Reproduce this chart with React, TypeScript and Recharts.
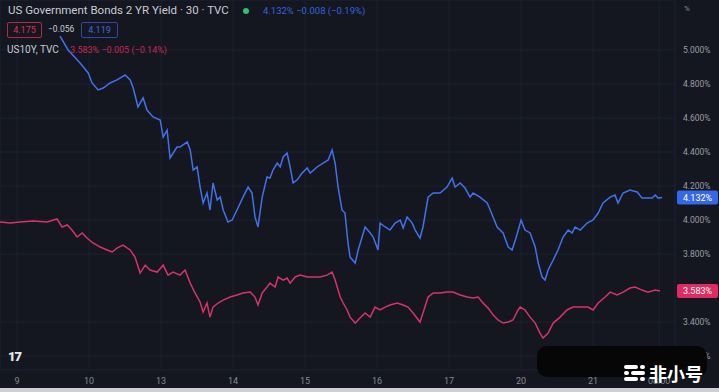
import React from 'react';
import { LineChart, Line, XAxis, YAxis, CartesianGrid, ReferenceLine } from 'recharts';

// x unit: hours of session time, 24 per trading day (day "9" = 0)
const dayTicks = [0, 24, 48, 72, 96, 120, 144, 168, 192, 214];
const dayLabels = ['9', '10', '13', '14', '15', '16', '17', '20', '21', '08:00'];
const yieldTicks = [3.2, 3.4, 3.8, 4.0, 4.2, 4.4, 4.6, 4.8, 5.0];

const us02yTime = [
  14.3, 17, 21, 23.7, 25, 27, 28.7, 31, 33.3, 36, 37.7, 38.7, 40.3, 42, 43.3, 45.3, 47.7, 48.7, 50, 51,
  53.3, 54.3, 56.7, 57.7, 58.7, 60, 61, 62, 63.3, 64.3, 65.3, 66.7, 67.7, 68.7, 70.3, 71.7, 73.3, 75.3, 77, 78.3,
  79.3, 80.3, 81.7, 83.3, 84.3, 85.3, 86.7, 87.7, 88.7, 90, 91, 92, 93.3, 95, 96.7, 97.7, 100, 102, 103.7, 105,
  106, 107, 108.3, 109.3, 110.3, 111, 112.7, 113.7, 116, 117.7, 118.7, 120.3, 121, 122.7, 124.3, 126, 127.7, 128.7, 130, 131.7,
  132.7, 134.3, 135.3, 137, 138.7, 141, 143.3, 145, 146, 147.7, 149.3, 151, 152, 154.3, 156.7, 157.7, 160, 162, 163.7, 165,
  166.3, 168, 169.3, 171, 172.7, 173.7, 175, 176, 177, 178.7, 180.3, 182, 183.7, 185, 186, 187.7, 190, 192, 193.7, 195.3,
  197.7, 199.3, 200.3, 202, 204.3, 206.7, 208.3, 210, 211.7, 212.7, 213.7, 215,
];
const us02yValue = [
  5.082, 5.0, 4.924, 4.865, 4.806, 4.765, 4.776, 4.806, 4.824, 4.853, 4.824, 4.776, 4.665, 4.718, 4.647, 4.606, 4.588, 4.488, 4.529, 4.365,
  4.429, 4.429, 4.459, 4.412, 4.294, 4.312, 4.194, 4.1, 4.159, 4.059, 4.218, 4.118, 4.135, 4.059, 3.988, 4.0, 4.059, 4.135, 4.194, 4.159,
  4.018, 3.959, 4.135, 4.253, 4.247, 4.294, 4.335, 4.312, 4.371, 4.394, 4.312, 4.218, 4.235, 4.276, 4.306, 4.276, 4.312, 4.335, 4.353, 4.412,
  4.335, 4.194, 4.059, 4.041, 3.865, 3.782, 3.747, 3.824, 3.959, 3.924, 3.9, 3.824, 3.982, 3.959, 3.941, 3.982, 4.0, 3.953, 4.018, 3.982,
  3.941, 3.894, 3.959, 4.135, 4.159, 4.159, 4.194, 4.247, 4.194, 4.218, 4.188, 4.135, 4.159, 4.135, 4.1, 4.059, 3.959, 3.924, 3.841, 3.824,
  3.894, 4.0, 3.941, 3.924, 3.841, 3.747, 3.665, 3.647, 3.706, 3.765, 3.824, 3.9, 3.941, 3.924, 3.959, 3.941, 3.982, 4.0, 4.041, 4.1,
  4.135, 4.147, 4.1, 4.159, 4.176, 4.165, 4.129, 4.129, 4.129, 4.147, 4.129, 4.132,
];

const us10yTime = [
  -5.7, -2.3, 1, 5.3, 10, 13.3, 15, 16.7, 18.3, 20, 21.7, 23.3, 25.3, 27.7, 30, 31.7, 33.3, 35.3, 37.7, 39.3,
  41, 42.7, 44.3, 46.7, 48.7, 50.3, 52, 54.3, 56, 57.7, 59.3, 61, 62, 63.3, 64.3, 65.3, 67, 68.7, 71, 73.3,
  75.3, 77.7, 79.3, 80.3, 81.7, 83.3, 84.3, 86, 87, 88.7, 90, 91, 92.7, 94.3, 96.7, 98.7, 101, 103.3, 105, 106,
  107.7, 108.7, 110, 111, 112.7, 114.3, 116, 117.7, 119.3, 121, 122.7, 124.3, 126.7, 128.7, 130.3, 132, 134.3, 135.3, 137, 138.7,
  141, 143.3, 145.3, 147.7, 150, 152, 153.7, 155.3, 157, 158.7, 160.3, 162, 163.7, 165.3, 167, 167.7, 169.3, 171, 172.7, 174.3,
  175.3, 177, 178.7, 181, 183.3, 185.3, 187.7, 190.3, 192, 193.7, 196, 197.7, 200, 202, 204.3, 206, 208.3, 210.3, 212.7, 214.3,
];
const us10yValue = [
  3.988, 3.982, 3.988, 3.994, 3.988, 4.006, 3.959, 3.971, 3.941, 3.9, 3.924, 3.894, 3.865, 3.841, 3.824, 3.812, 3.835, 3.853, 3.824, 3.782,
  3.688, 3.735, 3.706, 3.694, 3.735, 3.676, 3.694, 3.676, 3.706, 3.629, 3.571, 3.518, 3.459, 3.512, 3.429, 3.488, 3.512, 3.529, 3.547, 3.559,
  3.571, 3.576, 3.547, 3.5, 3.571, 3.606, 3.629, 3.606, 3.665, 3.647, 3.659, 3.629, 3.665, 3.676, 3.665, 3.665, 3.665, 3.676, 3.694, 3.647,
  3.547, 3.512, 3.471, 3.429, 3.394, 3.424, 3.453, 3.429, 3.488, 3.471, 3.488, 3.5, 3.512, 3.5, 3.488, 3.453, 3.4, 3.453, 3.547, 3.571,
  3.571, 3.576, 3.576, 3.559, 3.547, 3.541, 3.547, 3.512, 3.482, 3.441, 3.412, 3.394, 3.4, 3.412, 3.471, 3.488, 3.471, 3.429, 3.394, 3.335,
  3.306, 3.335, 3.394, 3.429, 3.471, 3.488, 3.488, 3.488, 3.471, 3.512, 3.547, 3.576, 3.559, 3.576, 3.6, 3.606, 3.588, 3.576, 3.588, 3.583,
];

const us02y = us02yTime.map((t, i) => ({ t, v: us02yValue[i] }));
const us10y = us10yTime.map((t, i) => ({ t, v: us10yValue[i] }));

const BG = '#141720';
const BLUE = '#4271ea';
const RED = '#d6336a';
const FONT = "Roboto, 'Noto Sans', sans-serif";

function PriceTag({ viewBox, value, color }: any) {
  if (!viewBox) return null;
  const x = viewBox.x + viewBox.width + 2;
  const y = viewBox.y;
  return (
    <g>
      <rect x={x} y={y - 7} width={41} height={14} rx={2} fill={color} />
      <text x={x + 20.5} y={y + 3.5} textAnchor="middle" fill="#ffffff" fontSize={9} fontFamily={FONT}>
        {value.toFixed(3)}%
      </text>
    </g>
  );
}

export default function App() {
  const last2 = us02yValue[us02yValue.length - 1];
  const last10 = us10yValue[us10yValue.length - 1];
  return (
    <div
      style={{
        position: 'fixed',
        left: 0,
        top: 0,
        width: 719,
        height: 392,
        background: BG,
        overflow: 'hidden',
        fontFamily: FONT,
      }}
    >
      <LineChart width={719} height={388} margin={{ top: 0, right: 0, bottom: 0, left: 0 }}>
        <CartesianGrid stroke="#1d2130" strokeWidth={1} />
        <XAxis
          dataKey="t"
          type="number"
          domain={[-5.7, 219.3]}
          ticks={dayTicks}
          allowDataOverflow
          tickFormatter={(t: number) => dayLabels[dayTicks.indexOf(t)] ?? ''}
          axisLine={false}
          tickLine={false}
          height={18}
          tick={{ fill: '#868993', fontSize: 9, fontFamily: FONT }}
        />
        <YAxis
          orientation="right"
          type="number"
          width={44}
          domain={[3.118, 5.294]}
          ticks={yieldTicks}
          allowDataOverflow
          tickFormatter={(v: number) => `${v.toFixed(3)}%`}
          axisLine={false}
          tickLine={false}
          tick={{ fill: '#9a9da6', fontSize: 8.5, fontFamily: FONT }}
        />
        <Line
          data={us10y}
          dataKey="v"
          type="linear"
          stroke={RED}
          strokeWidth={1.5}
          dot={false}
          activeDot={false}
          isAnimationActive={false}
        />
        <Line
          data={us02y}
          dataKey="v"
          type="linear"
          stroke={BLUE}
          strokeWidth={1.5}
          dot={false}
          activeDot={false}
          isAnimationActive={false}
        />
        <ReferenceLine
          y={last2}
          stroke="none"
          label={(p: any) => <PriceTag {...p} value={last2} color="#3568e6" />}
        />
        <ReferenceLine
          y={last10}
          stroke="none"
          label={(p: any) => <PriceTag {...p} value={last10} color="#e02a62" />}
        />
      </LineChart>

      {/* legend header */}
      <div style={{ position: 'absolute', left: 8, top: 3, fontSize: 11.5, color: '#c9cbd1', whiteSpace: 'nowrap' }}>
        US Government Bonds 2 YR Yield · 30 · TVC
      </div>
      <div
        style={{ position: 'absolute', left: 243, top: 8, width: 6, height: 6, borderRadius: 3, background: '#2fbf71' }}
      />
      <div style={{ position: 'absolute', left: 263, top: 5, fontSize: 9.5, color: '#3563d8', whiteSpace: 'nowrap' }}>
        4.132% −0.008 (−0.19%)
      </div>
      <div
        style={{
          position: 'absolute',
          left: 7,
          top: 22,
          width: 33,
          height: 14,
          border: '1px solid #b02a45',
          borderRadius: 2,
          color: '#d8344f',
          fontSize: 9,
          lineHeight: '14px',
          textAlign: 'center',
        }}
      >
        4.175
      </div>
      <div style={{ position: 'absolute', left: 48, top: 24, fontSize: 8.5, color: '#c9cbd1' }}>−0.056</div>
      <div
        style={{
          position: 'absolute',
          left: 81,
          top: 22,
          width: 35,
          height: 14,
          border: '1px solid #3046a8',
          borderRadius: 2,
          color: '#4468d8',
          fontSize: 9,
          lineHeight: '14px',
          textAlign: 'center',
        }}
      >
        4.119
      </div>
      <div style={{ position: 'absolute', left: 7, top: 44, fontSize: 10, color: '#c9cbd1', whiteSpace: 'nowrap' }}>
        US10Y, TVC
      </div>
      <div style={{ position: 'absolute', left: 70, top: 45, fontSize: 9, color: '#c42a52', whiteSpace: 'nowrap' }}>
        3.583% −0.005 (−0.14%)
      </div>
      <div style={{ position: 'absolute', left: 684, top: 4, fontSize: 8, color: '#868993' }}>%</div>

      {/* TradingView mark */}
      <div
        style={{
          position: 'absolute',
          left: 8,
          top: 349,
          fontSize: 13,
          fontWeight: 900,
          color: '#e8e9ec',
          letterSpacing: -1,
        }}
      >
        17
      </div>

      {/* watermark */}
      <div
        style={{
          position: 'absolute',
          left: 537,
          top: 346,
          width: 170,
          height: 31,
          borderRadius: 10,
          background: '#060607',
        }}
      />
      <div style={{ position: 'absolute', left: 624, top: 365 }}>
        {[0, 1, 2].map((r) => (
          <div key={r} style={{ display: 'flex', gap: 2, marginBottom: 2 }}>
            <div style={{ width: r === 1 ? 5 : 14, height: 4, borderRadius: 2, background: '#fff' }} />
            <div style={{ width: r === 1 ? 14 : 5, height: 4, borderRadius: 2, background: '#fff' }} />
          </div>
        ))}
      </div>
      <div
        style={{
          position: 'absolute',
          left: 649,
          top: 363,
          fontSize: 18,
          lineHeight: '20px',
          fontWeight: 700,
          color: '#ffffff',
          fontFamily: "'Noto Sans CJK SC', sans-serif",
        }}
      >
        非小号
      </div>
      <div style={{ position: 'absolute', left: 0, top: 388, width: 719, height: 4, background: '#cfd0d3' }} />
    </div>
  );
}
